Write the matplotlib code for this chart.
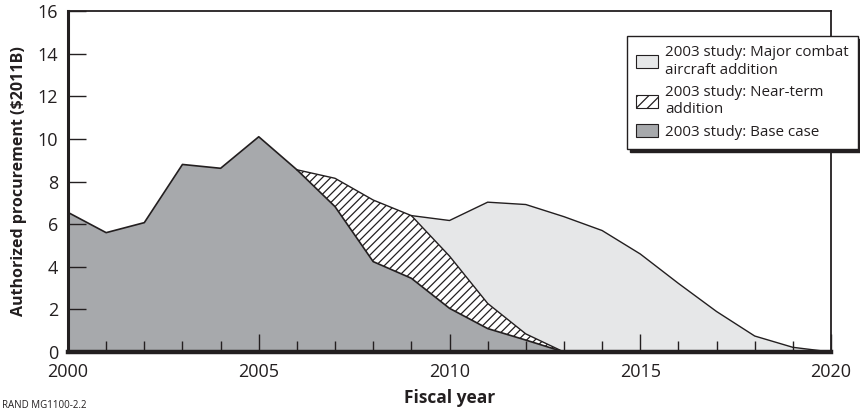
import matplotlib
matplotlib.use("Agg")
import matplotlib.pyplot as plt
from matplotlib.patches import Patch
import numpy as np

plt.rcParams['font.family'] = ['Open Sans', 'DejaVu Sans']
plt.rcParams['hatch.linewidth'] = 0.9

# Data
years_base = [2000, 2001, 2002, 2003, 2004, 2005, 2006, 2007, 2008, 2009, 2010, 2011, 2012, 2013]
base_case = [6.55, 5.6, 6.07, 8.8, 8.62, 10.1, 8.55, 6.82, 4.24, 3.46, 2.05, 1.1, 0.56, 0.0]
near_term_total = [6.55, 5.6, 6.07, 8.8, 8.62, 10.1, 8.55, 8.15, 7.13, 6.4, 4.5, 2.28, 0.85, 0.0]
years_major = [2000, 2001, 2002, 2003, 2004, 2005, 2006, 2007, 2008, 2009, 2010, 2011,
               2012, 2013, 2014, 2015, 2016, 2017, 2018, 2019, 2020]
major_total = [6.55, 5.6, 6.07, 8.8, 8.62, 10.1, 8.55, 8.15, 7.13, 6.4, 6.17, 7.03,
               6.92, 6.35, 5.7, 4.6, 3.22, 1.9, 0.75, 0.22, 0.0]
labels = ["2003 study: Major combat\naircraft addition",
          "2003 study: Near-term\naddition",
          "2003 study: Base case"]
yticks = list(range(0, 17, 2))
xticks_major = [2000, 2005, 2010, 2015, 2020]

c_major = '#e6e7e8'
c_base = '#a7a9ac'
ink = '#231f20'

fig = plt.figure(figsize=(8.6, 4.12), dpi=100)
ax = fig.add_axes([68/860, 60/412, (831-68)/860, (352-11)/412])
ax.set_axisbelow(False)

ax.fill_between(years_major, 0, major_total, facecolor=c_major, edgecolor='none', zorder=0.5)
ax.fill_between(years_base, 0, near_term_total, facecolor='white', edgecolor=ink,
                hatch='////', linewidth=0, zorder=0.6)
ax.fill_between(years_base, 0, base_case, facecolor=c_base, edgecolor='none', zorder=0.7)

ax.plot(years_major[9:], major_total[9:], color=ink, lw=1.0, zorder=1)
ax.plot(years_base[6:], near_term_total[6:], color=ink, lw=1.0, zorder=1)
ax.plot(years_base, base_case, color=ink, lw=1.2, zorder=1)

ax.set_xlim(2000, 2020)
ax.set_ylim(0, 16)
ax.set_yticks(yticks)
ax.set_xticks(xticks_major)
ax.set_xticks(range(2000, 2021), minor=True)

for s in ['top', 'right']:
    ax.spines[s].set_linewidth(1.3)
ax.spines['left'].set_linewidth(2.2)
ax.spines['bottom'].set_linewidth(3.2)
for s in ax.spines.values():
    s.set_color(ink)

ax.tick_params(axis='y', direction='in', length=13, width=1.0, labelsize=13, pad=7,
               colors=ink)
ax.tick_params(axis='x', which='major', direction='in', length=13, width=1.0,
               labelsize=13, pad=8, colors=ink)
ax.tick_params(axis='x', which='minor', direction='in', length=8, width=1.0, colors=ink)

ax.set_ylabel("Authorized procurement (\\$2011B)", fontsize=11.5, fontweight='bold',
              color=ink, labelpad=8)
ax.set_xlabel("Fiscal year", fontsize=12.5, fontweight='bold', color=ink, labelpad=6)

handles = [Patch(facecolor=c_major, edgecolor=ink, linewidth=0.8),
           Patch(facecolor='white', edgecolor=ink, hatch='///', linewidth=0.8),
           Patch(facecolor=c_base, edgecolor=ink, linewidth=0.8)]
leg = ax.legend(handles, labels, loc='upper left', bbox_to_anchor=(627/860, 1 - 36/412),
                bbox_transform=fig.transFigure, fontsize=10.9, frameon=True, fancybox=False,
                shadow={'color': ink, 'alpha': 1.0}, borderpad=0.6, handlelength=1.45,
                handleheight=0.9, handletextpad=0.45, labelspacing=0.45, borderaxespad=0)
leg.get_frame().set_edgecolor(ink)
leg.get_frame().set_linewidth(1.0)
leg.set_zorder(10)
for t in leg.get_texts():
    t.set_color(ink)
    t.set_linespacing(1.25)

fig.text(2/860, 1 - 405/412, "RAND MG1100-2.2", fontsize=7, color=ink,
         va='center', ha='left')

fig.savefig("out.png", dpi=100)
